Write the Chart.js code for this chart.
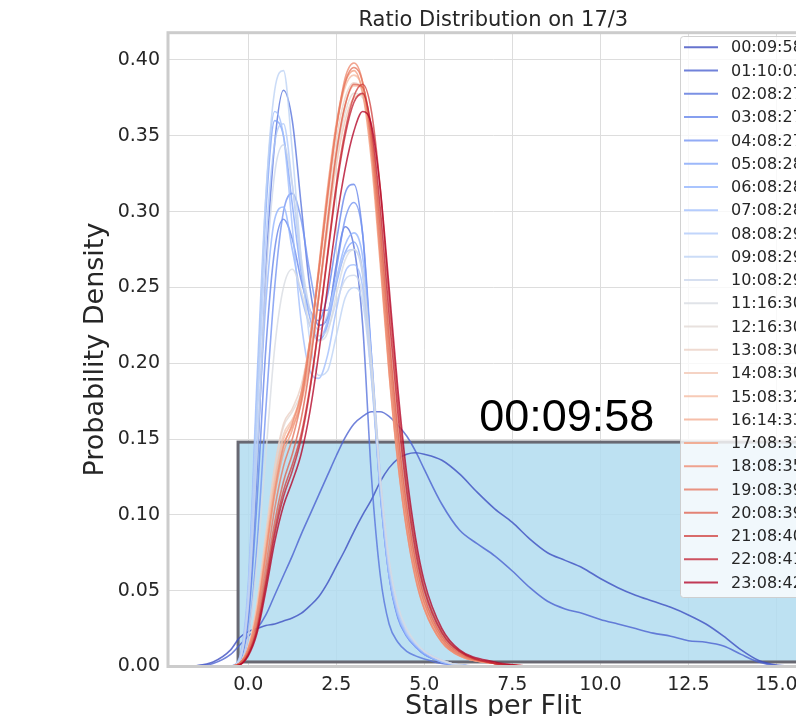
<!DOCTYPE html>
<html>
<head>
<meta charset="utf-8">
<title>Ratio Distribution on 17/3</title>
<script src="https://cdn.jsdelivr.net/npm/chart.js@4.4.1/dist/chart.umd.min.js"></script>
<style>
  html, body { margin: 0; padding: 0; overflow: hidden; background: #fff; }
  canvas { display: block; }
</style>
</head>
<body>
<canvas id="ratioChart" width="840" height="730"></canvas>
<script>
// Legend labels (one per hourly snapshot)
const timeLabels = [
  '00:09:58', '01:10:03', '02:08:27', '03:08:27', '04:08:27', '05:08:28',
  '06:08:28', '07:08:28', '08:08:29', '09:08:29', '10:08:29', '11:16:30',
  '12:16:30', '13:08:30', '14:08:30', '15:08:32', '16:14:33', '17:08:33',
  '18:08:35', '19:08:39', '20:08:39', '21:08:40', '22:08:41', '23:08:42'
];

// x grid for the two wide curves (00h, 01h)
const xWide = [-2, -1.5, -1, -0.5, -0.25,
  0, 0.25, 0.5, 0.75, 1, 1.25, 1.5, 1.75, 2, 2.25, 2.5, 2.75, 3, 3.25, 3.5, 3.75, 4, 4.25, 4.5, 4.75, 5,
  5.5, 6, 6.5, 7, 7.5, 8, 8.5, 9, 9.5, 10, 10.5, 11, 11.5, 12, 12.5, 13, 13.5, 14, 14.5, 15, 15.5];

const density00 = [0, 0.0005, 0.003, 0.011, 0.019,
  0.023, 0.025, 0.027, 0.028, 0.03, 0.032, 0.035, 0.04, 0.046, 0.055, 0.066, 0.077, 0.089, 0.1, 0.11, 0.122, 0.131, 0.137, 0.14, 0.141, 0.14,
  0.136, 0.127, 0.115, 0.104, 0.095, 0.084, 0.075, 0.07, 0.065, 0.058, 0.052, 0.047, 0.043, 0.039, 0.034, 0.028, 0.02, 0.011, 0.004, 0.001, 0];
const density01 = [0, 0.0005, 0.002, 0.008, 0.014,
  0.02, 0.025, 0.034, 0.047, 0.06, 0.073, 0.087, 0.1, 0.113, 0.126, 0.139, 0.151, 0.16, 0.165, 0.168, 0.168, 0.165, 0.159, 0.152, 0.142, 0.13,
  0.107, 0.09, 0.081, 0.073, 0.063, 0.052, 0.043, 0.038, 0.035, 0.031, 0.028, 0.025, 0.022, 0.02, 0.017, 0.016, 0.0135, 0.008, 0.003, 0.0005, 0];

// x grid for the narrow curves (02h .. 23h)
const xFine = [-0.5, -0.25, 0, 0.25, 0.5, 0.75, 1, 1.25, 1.5, 1.75, 2, 2.25, 2.5, 2.75,
  3, 3.25, 3.5, 3.75, 4, 4.25, 4.5, 4.75, 5, 5.5, 6, 7, 8];

const density02 = [0, 0.004, 0.035, 0.13, 0.26, 0.345, 0.38, 0.36, 0.305, 0.25, 0.225, 0.23, 0.265, 0.29, 0.277, 0.225, 0.125, 0.06, 0.028, 0.016, 0.01, 0.007, 0.005, 0.002, 0.001, 0, 0];
const density03 = [0, 0.003, 0.03, 0.11, 0.21, 0.275, 0.295, 0.282, 0.255, 0.235, 0.228, 0.245, 0.28, 0.312, 0.318, 0.285, 0.2, 0.115, 0.06, 0.032, 0.02, 0.013, 0.008, 0.003, 0.001, 0, 0];
const density04 = [0, 0.002, 0.02, 0.08, 0.17, 0.25, 0.3, 0.312, 0.295, 0.26, 0.235, 0.235, 0.262, 0.295, 0.306, 0.285, 0.205, 0.118, 0.06, 0.033, 0.02, 0.013, 0.008, 0.003, 0.001, 0, 0];
const density05 = [0, 0.005, 0.05, 0.18, 0.3, 0.36, 0.35, 0.305, 0.26, 0.23, 0.215, 0.225, 0.252, 0.273, 0.28, 0.26, 0.195, 0.115, 0.06, 0.033, 0.02, 0.013, 0.008, 0.003, 0.001, 0, 0];
const density06 = [0, 0.004, 0.04, 0.14, 0.24, 0.295, 0.303, 0.275, 0.245, 0.225, 0.215, 0.228, 0.255, 0.278, 0.286, 0.27, 0.205, 0.125, 0.065, 0.035, 0.021, 0.014, 0.009, 0.003, 0.001, 0, 0];
const density07 = [0, 0.006, 0.055, 0.19, 0.31, 0.366, 0.35, 0.29, 0.228, 0.195, 0.19, 0.205, 0.235, 0.26, 0.265, 0.25, 0.19, 0.115, 0.06, 0.034, 0.021, 0.014, 0.009, 0.003, 0.001, 0, 0];
const density08 = [0, 0.004, 0.045, 0.16, 0.28, 0.345, 0.358, 0.318, 0.265, 0.235, 0.222, 0.232, 0.255, 0.272, 0.275, 0.258, 0.2, 0.12, 0.065, 0.036, 0.022, 0.015, 0.01, 0.004, 0.001, 0, 0];
const density09 = [0, 0.005, 0.05, 0.175, 0.31, 0.38, 0.393, 0.34, 0.27, 0.215, 0.192, 0.195, 0.218, 0.243, 0.25, 0.24, 0.19, 0.12, 0.065, 0.037, 0.023, 0.015, 0.01, 0.004, 0.001, 0, 0];
const density10 = [0, 0.004, 0.04, 0.14, 0.255, 0.325, 0.344, 0.318, 0.27, 0.235, 0.218, 0.222, 0.24, 0.255, 0.258, 0.245, 0.195, 0.125, 0.07, 0.04, 0.024, 0.016, 0.01, 0.004, 0.001, 0, 0];
const density11 = [0, 0.002, 0.02, 0.07, 0.14, 0.21, 0.25, 0.262, 0.248, 0.225, 0.215, 0.22, 0.245, 0.268, 0.275, 0.26, 0.2, 0.125, 0.07, 0.04, 0.025, 0.016, 0.01, 0.004, 0.001, 0, 0];
const density12 = [0, 0.002, 0.012, 0.04, 0.085, 0.13, 0.158, 0.168, 0.18, 0.205, 0.245, 0.29, 0.335, 0.365, 0.378, 0.375, 0.345, 0.285, 0.21, 0.148, 0.1, 0.066, 0.043, 0.019, 0.008, 0.002, 0];
const density13 = [0, 0.002, 0.013, 0.042, 0.088, 0.132, 0.16, 0.17, 0.185, 0.215, 0.258, 0.305, 0.348, 0.375, 0.385, 0.378, 0.34, 0.278, 0.205, 0.143, 0.096, 0.063, 0.041, 0.018, 0.008, 0.002, 0];
const density14 = [0, 0.002, 0.012, 0.04, 0.083, 0.125, 0.153, 0.163, 0.176, 0.203, 0.243, 0.288, 0.33, 0.36, 0.375, 0.377, 0.352, 0.297, 0.225, 0.16, 0.108, 0.071, 0.046, 0.02, 0.009, 0.002, 0];
const density15 = [0, 0.002, 0.012, 0.038, 0.08, 0.122, 0.15, 0.162, 0.18, 0.215, 0.262, 0.312, 0.355, 0.382, 0.39, 0.38, 0.338, 0.272, 0.2, 0.14, 0.094, 0.062, 0.04, 0.017, 0.007, 0.002, 0];
const density16 = [0, 0.002, 0.011, 0.036, 0.077, 0.118, 0.146, 0.158, 0.173, 0.203, 0.246, 0.295, 0.34, 0.37, 0.383, 0.382, 0.35, 0.29, 0.217, 0.153, 0.103, 0.068, 0.044, 0.019, 0.008, 0.002, 0];
const density17 = [0, 0.002, 0.011, 0.034, 0.073, 0.113, 0.141, 0.156, 0.177, 0.214, 0.263, 0.315, 0.358, 0.385, 0.393, 0.378, 0.333, 0.265, 0.193, 0.134, 0.09, 0.059, 0.038, 0.016, 0.007, 0.002, 0];
const density18 = [0, 0.002, 0.012, 0.035, 0.075, 0.115, 0.145, 0.16, 0.18, 0.215, 0.26, 0.31, 0.355, 0.388, 0.398, 0.385, 0.34, 0.27, 0.195, 0.135, 0.09, 0.058, 0.038, 0.016, 0.007, 0.002, 0];
const density19 = [0, 0.002, 0.01, 0.03, 0.066, 0.104, 0.132, 0.15, 0.174, 0.212, 0.26, 0.31, 0.355, 0.385, 0.395, 0.385, 0.345, 0.28, 0.207, 0.145, 0.098, 0.064, 0.042, 0.018, 0.008, 0.002, 0];
const density20 = [0, 0.002, 0.009, 0.027, 0.06, 0.095, 0.122, 0.14, 0.163, 0.198, 0.243, 0.292, 0.338, 0.37, 0.384, 0.382, 0.35, 0.29, 0.218, 0.155, 0.106, 0.07, 0.046, 0.02, 0.009, 0.002, 0];
const density21 = [0, 0.001, 0.008, 0.025, 0.056, 0.09, 0.116, 0.133, 0.153, 0.184, 0.225, 0.272, 0.318, 0.353, 0.376, 0.384, 0.366, 0.315, 0.243, 0.175, 0.12, 0.08, 0.052, 0.023, 0.01, 0.002, 0];
const density22 = [0, 0.001, 0.008, 0.024, 0.054, 0.087, 0.112, 0.129, 0.15, 0.182, 0.224, 0.27, 0.315, 0.35, 0.372, 0.378, 0.355, 0.302, 0.232, 0.167, 0.115, 0.076, 0.05, 0.022, 0.01, 0.002, 0];
const density23 = [0, 0.001, 0.007, 0.022, 0.05, 0.082, 0.106, 0.122, 0.14, 0.168, 0.206, 0.25, 0.293, 0.328, 0.353, 0.366, 0.357, 0.315, 0.25, 0.183, 0.127, 0.085, 0.056, 0.025, 0.011, 0.003, 0];

const curveX = [xWide, xWide].concat(Array(22).fill(xFine));
const curveY = [density00, density01, density02, density03, density04, density05, density06,
  density07, density08, density09, density10, density11, density12, density13, density14,
  density15, density16, density17, density18, density19, density20, density21, density22, density23];

// Tick labels
const xTicks = [0, 2.5, 5, 7.5, 10, 12.5, 15];
const yTicks = [0, 0.05, 0.1, 0.15, 0.2, 0.25, 0.3, 0.35, 0.4];

// Highlighted box and time stamp (data units)
const boxX = [-0.29, 17.5];
const boxY = [0.003, 0.148];
const stampText = '00:09:58';
const stampAt = [6.56, 0.1553];

// coolwarm colormap stops
const coolwarm = [
  [59, 76, 192], [98, 130, 234], [141, 176, 254], [184, 208, 249], [221, 221, 221],
  [245, 196, 173], [244, 154, 123], [222, 96, 77], [180, 4, 38]
];
function coolwarmColor(t, alpha) {
  const pos = t * (coolwarm.length - 1);
  const k = Math.min(Math.floor(pos), coolwarm.length - 2);
  const f = pos - k;
  const c = coolwarm[k].map((v, j) => Math.round(v + (coolwarm[k + 1][j] - v) * f));
  return `rgba(${c[0]},${c[1]},${c[2]},${alpha})`;
}

const datasets = timeLabels.map((label, i) => ({
  label: label,
  data: curveX[i].map((x, k) => ({ x: x, y: curveY[i][k] })),
  borderColor: coolwarmColor(i / (timeLabels.length - 1), 0.78),
  borderWidth: 1.6,
  pointRadius: 0,
  fill: false,
  cubicInterpolationMode: 'monotone',
  order: timeLabels.length - i
}));

// Light blue box under the curves
const boxPlugin = {
  id: 'box',
  beforeDatasetsDraw(chart) {
    const { ctx, chartArea, scales: { x, y } } = chart;
    const l = x.getPixelForValue(boxX[0]), r = x.getPixelForValue(boxX[1]);
    const t = y.getPixelForValue(boxY[1]), b = y.getPixelForValue(boxY[0]);
    ctx.save();
    ctx.beginPath();
    ctx.rect(chartArea.left, chartArea.top, chartArea.width, chartArea.height);
    ctx.clip();
    ctx.fillStyle = 'rgba(178,220,240,0.85)';
    ctx.fillRect(l, t, r - l, b - t);
    ctx.strokeStyle = 'rgb(104,104,114)';
    ctx.lineWidth = 3;
    ctx.strokeRect(l, t, r - l, b - t);
    ctx.restore();
  }
};

// Spines, stamp and legend on top
const overlayPlugin = {
  id: 'overlay',
  afterDatasetsDraw(chart) {
    const { ctx, chartArea, scales: { x, y } } = chart;
    ctx.save();
    ctx.strokeStyle = '#cccccc';
    ctx.lineWidth = 3;
    ctx.strokeRect(chartArea.left, chartArea.top, chartArea.width, chartArea.height);

    // time stamp
    ctx.fillStyle = '#000';
    ctx.font = '45px "Liberation Sans", Arial, sans-serif';
    ctx.textAlign = 'left';
    ctx.textBaseline = 'alphabetic';
    ctx.fillText(stampText, x.getPixelForValue(stampAt[0]), y.getPixelForValue(stampAt[1]));

    // legend
    const left = chartArea.right - 138.6, top = 36;
    const rowH = 23.27, w = 133, h = 561;
    ctx.fillStyle = 'rgba(255,255,255,0.8)';
    ctx.strokeStyle = 'rgba(204,204,204,0.9)';
    ctx.lineWidth = 1;
    ctx.beginPath();
    ctx.roundRect(left + 0.5, top + 0.5, w, h, 3);
    ctx.fill();
    ctx.stroke();
    ctx.font = '16px "DejaVu Sans", sans-serif';
    ctx.textBaseline = 'middle';
    chart.data.datasets.forEach((ds, i) => {
      const cy = top + 11.3 + i * rowH;
      ctx.strokeStyle = ds.borderColor;
      ctx.lineWidth = 2;
      ctx.beginPath();
      ctx.moveTo(left + 4, cy);
      ctx.lineTo(left + 38, cy);
      ctx.stroke();
      ctx.fillStyle = '#262626';
      ctx.fillText(ds.label, left + 51, cy + 1);
    });
    ctx.restore();
  }
};

const ctx = document.getElementById('ratioChart').getContext('2d');
const ratioChart = new Chart(ctx, {
  type: 'line',
  data: { datasets: datasets },
  plugins: [boxPlugin, overlayPlugin],
  options: {
    responsive: false,
    animation: false,
    devicePixelRatio: 1,
    layout: { padding: { left: 0, right: 21.4, top: 0, bottom: 0 } },
    plugins: {
      legend: { display: false },
      tooltip: { enabled: false },
      title: {
        display: true,
        text: 'Ratio Distribution on 17/3',
        fullSize: false,
        color: '#262626',
        font: { family: '"DejaVu Sans", sans-serif', size: 21, weight: 'normal' },
        padding: { top: 7.5, bottom: 0 }
      }
    },
    scales: {
      x: {
        type: 'linear',
        min: -2.28,
        max: 16.2,
        afterBuildTicks: (scale) => { scale.ticks = xTicks.map(v => ({ value: v })); },
        afterFit: (scale) => { scale.height = 63.5; },
        grid: { color: '#dddddd', lineWidth: 1, drawTicks: false },
        border: { display: false },
        ticks: {
          padding: 7,
          color: '#262626',
          font: { family: '"DejaVu Sans", sans-serif', size: 19 },
          callback: (v) => Number(v).toFixed(1)
        },
        title: {
          display: true,
          text: 'Stalls per Flit',
          color: '#262626',
          font: { family: '"DejaVu Sans", sans-serif', size: 27 },
          padding: { top: 0, bottom: 6.4 }
        }
      },
      y: {
        type: 'linear',
        min: 0,
        max: 0.418,
        afterBuildTicks: (scale) => { scale.ticks = yTicks.map(v => ({ value: v })); },
        afterFit: (scale) => { scale.width = 168; },
        grid: { color: '#dddddd', lineWidth: 1, drawTicks: false },
        border: { display: false },
        ticks: {
          padding: 8,
          color: '#262626',
          font: { family: '"DejaVu Sans", sans-serif', size: 19 },
          callback: (v) => Number(v).toFixed(2)
        },
        title: {
          display: true,
          text: 'Probability Density',
          color: '#262626',
          font: { family: '"DejaVu Sans", sans-serif', size: 27 },
          padding: { top: 80, bottom: 0 }
        }
      }
    }
  }
});
</script>
</body>
</html>
